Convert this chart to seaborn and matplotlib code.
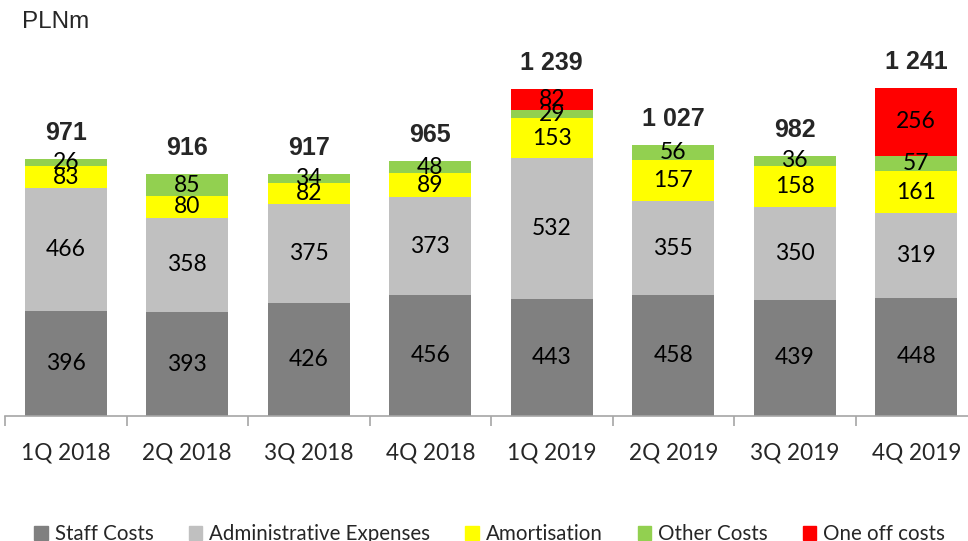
import numpy as np
import pandas as pd
import matplotlib.pyplot as plt
import seaborn as sns

# =========================
# DATA
# =========================
quarters = ["1Q 2018", "2Q 2018", "3Q 2018", "4Q 2018",
            "1Q 2019", "2Q 2019", "3Q 2019", "4Q 2019"]
staff = [396, 393, 426, 456, 443, 458, 439, 448]
admin = [466, 358, 375, 373, 532, 355, 350, 319]
amort = [83, 80, 82, 89, 153, 157, 158, 161]
other = [26, 85, 34, 48, 29, 56, 36, 57]
one_off = [0, 0, 0, 0, 82, 0, 0, 256]
total_labels = ["971", "916", "917", "965", "1 239", "1 027", "982", "1 241"]

series_names = ["Staff Costs", "Administrative Expenses", "Amortisation",
                "Other Costs", "One off costs"]
series_vals = [staff, admin, amort, other, one_off]
colors = ["#808080", "#C0C0C0", "#FFFF00", "#92D050", "#FF0000"]

df = pd.DataFrame(dict(zip(series_names, series_vals)), index=quarters)
cum = df.cumsum(axis=1)

# =========================
# STYLE
# =========================
sns.set_theme(style="white")
plt.rcParams["font.family"] = ["Lato", "DejaVu Sans"]

fig = plt.figure(figsize=(9.68, 5.41), dpi=100)
ax = fig.add_axes([5 / 968, 125 / 541, 972 / 968, 416 / 541])

# draw cumulative layers from the top down so each one covers the previous
for name, col in reversed(list(zip(series_names, colors))):
    sns.barplot(x=quarters, y=cum[name].values, color=col, width=0.675,
                linewidth=0, saturation=1, ax=ax)

# segment labels
for i, q in enumerate(quarters):
    for name in series_names:
        v = df.loc[q, name]
        if v <= 0:
            continue
        mid = cum.loc[q, name] - v / 2
        ax.text(i, mid, f"{v}", ha="center", va="center", fontsize=16.5,
                color="black")
    ax.annotate(total_labels[i], (i, cum.loc[q].iloc[-1]),
                xytext=(0, 10), textcoords="offset points",
                ha="center", va="bottom", fontsize=18, fontweight="bold",
                family="Liberation Sans")

ax.set_ylim(0, 1574)
ax.set_xlim(-0.5, 7.5)
sns.despine(ax=ax, left=True, top=True, right=True)
ax.spines["bottom"].set_color("#A6A6A6")
ax.spines["bottom"].set_linewidth(1.2)
ax.set_yticks([])
ax.set_xticks(range(len(quarters)))
ax.set_xticklabels(quarters, fontsize=16.3)
ax.tick_params(axis="x", which="major", length=0, pad=19)
ax.set_xticks(np.arange(-0.5, 8.0, 1.0), minor=True)
ax.tick_params(axis="x", which="minor", length=7, width=1.2,
               color="#A6A6A6", bottom=True)

fig.text(22 / 968, 1 - 22 / 541, "PLNm", ha="left", va="center",
         fontsize=17.5, family="Liberation Sans")

handles = [plt.Rectangle((0, 0), 1, 1, color=c) for c in colors]
fig.legend(handles, series_names, loc="center", ncol=5,
           bbox_to_anchor=(0.506, 0.013), frameon=False, fontsize=14.8,
           handlelength=0.65, handleheight=0.65, handletextpad=0.35,
           columnspacing=1.7, borderpad=0)

plt.savefig("out.png", dpi=100)
